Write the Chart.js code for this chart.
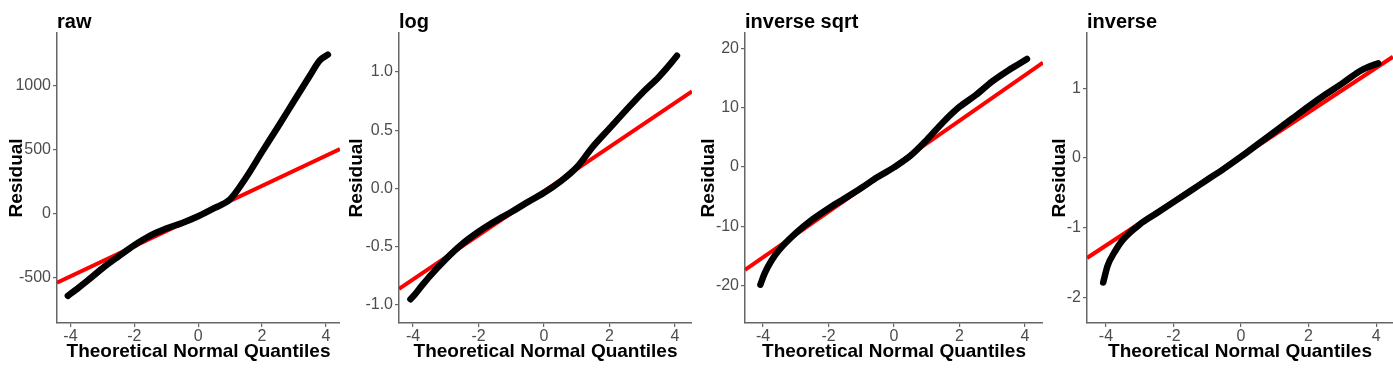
<!DOCTYPE html>
<html>
<head>
<meta charset="utf-8">
<script src="https://cdn.jsdelivr.net/npm/chart.js@4.4.0/dist/chart.umd.min.js"></script>
<style>
  body { margin: 0; background: #fff; }
  #wrap { position: relative; width: 1393px; height: 368px; overflow: hidden; }
  canvas { position: absolute; top: 0; }
</style>
</head>
<body>
<div id="wrap">
  <canvas id="c1"></canvas>
  <canvas id="c2"></canvas>
  <canvas id="c3"></canvas>
  <canvas id="c4"></canvas>
</div>
<script>
// theoretical normal quantiles (same for every panel)
var quantX = [-4.08, -3.95, -3.75, -3.5, -3, -2.5, -2, -1.5, -1, -0.5, 0, 0.5, 1, 1.5, 2, 2.5, 3, 3.5, 3.8, 4.06];

// residuals per transform
var rawY = [-640, -615, -577, -528, -425, -333, -245, -170, -114, -70, -18, 45, 115, 285, 485, 682, 882, 1082, 1198, 1245];
var logY = [-0.955, -0.915, -0.845, -0.76, -0.61, -0.48, -0.375, -0.285, -0.205, -0.12, -0.04, 0.058, 0.18, 0.36, 0.515, 0.67, 0.82, 0.955, 1.05, 1.14];
var invSqrtY = [-19.9, -18.0, -15.9, -14.0, -11.2, -8.9, -7.0, -5.3, -3.55, -1.7, -0.05, 1.9, 4.6, 7.6, 10.2, 12.2, 14.5, 16.4, 17.4, 18.3];
var invY = [-1.78, -1.54, -1.35, -1.17, -0.95, -0.79, -0.63, -0.47, -0.31, -0.15, 0.02, 0.2, 0.38, 0.56, 0.74, 0.91, 1.07, 1.24, 1.31, 1.355];

// qq reference lines (end points)
var rawLineX = [-4.42, 4.44], rawLineY = [-537, 507];
var logLineX = [-4.43, 4.52], logLineY = [-0.867, 0.834];
var invSqrtLineX = [-4.55, 4.55], invSqrtLineY = [-17.4, 17.7];
var invLineX = [-4.56, 4.5], invLineY = [-1.43, 1.45];

// ticks
var xTicks = [-4, -2, 0, 2, 4];
var rawTicks = [-500, 0, 500, 1000];
var logTicks = [-1, -0.5, 0, 0.5, 1];
var logTickLabels = ['-1.0', '-0.5', '0.0', '0.5', '1.0'];
var invSqrtTicks = [-20, -10, 0, 10, 20];
var invTicks = [-2, -1, 0, 1];

var titles = ['raw', 'log', 'inverse sqrt', 'inverse'];

var FONT = "'Liberation Sans', Arial, sans-serif";

var titlePlugin = {
  id: 'panelTitle',
  afterDraw: function(chart, args, opts) {
    var ctx = chart.ctx;
    ctx.save();
    ctx.font = 'bold 20px ' + FONT;
    ctx.fillStyle = '#000';
    ctx.textBaseline = 'alphabetic';
    ctx.textAlign = 'left';
    ctx.fillText(opts.text, chart.chartArea.left, 28);
    ctx.restore();
  }
};

function pts(xs, ys) {
  var out = [];
  for (var i = 0; i < xs.length; i++) out.push({x: xs[i], y: ys[i]});
  return out;
}

function panel(id, left, width, yWidth, title, ys, lx, ly, xr, yr, yt, ylab) {
  var cv = document.getElementById(id);
  cv.width = width; cv.height = 368;
  cv.style.left = left + 'px';
  new Chart(cv, {
    type: 'scatter',
    data: {
      datasets: [{
        data: pts(quantX, ys),
        showLine: true,
        borderColor: '#000',
        backgroundColor: '#000',
        borderWidth: 6.5,
        borderCapStyle: 'round',
        borderJoinStyle: 'round',
        cubicInterpolationMode: 'monotone',
        pointRadius: 0
      }, {
        data: pts(lx, ly),
        showLine: true,
        borderColor: '#ff0000',
        borderWidth: 4,
        pointRadius: 0
      }]
    },
    options: {
      responsive: false,
      animation: false,
      devicePixelRatio: 1,
      layout: { padding: { top: 33, right: 0, left: 0, bottom: 0 } },
      plugins: {
        legend: { display: false },
        tooltip: { enabled: false },
        panelTitle: { text: title }
      },
      scales: {
        x: {
          type: 'linear',
          min: xr[0], max: xr[1],
          afterFit: function(s) { s.height = 45; },
          afterBuildTicks: function(s) { s.ticks = xTicks.map(function(v) { return {value: v}; }); },
          grid: { drawOnChartArea: false, drawTicks: true, tickLength: 4, color: '#666', lineWidth: 1.2 },
          border: { color: '#666', width: 1.5 },
          ticks: { color: '#4d4d4d', font: { family: FONT, size: 16 }, padding: 0, maxRotation: 0 },
          title: { display: true, text: 'Theoretical Normal Quantiles', color: '#000',
                   font: { family: FONT, size: 19, weight: 'bold' }, padding: { top: 0, bottom: 5 } }
        },
        y: {
          type: 'linear',
          min: yr[0], max: yr[1],
          afterFit: function(s) { s.width = yWidth; },
          afterBuildTicks: function(s) { s.ticks = yt.map(function(v) { return {value: v}; }); },
          grid: { drawOnChartArea: false, drawTicks: true, tickLength: 4, color: '#666', lineWidth: 1.2 },
          border: { color: '#666', width: 1.5 },
          ticks: {
            color: '#4d4d4d', font: { family: FONT, size: 16 }, padding: 2,
            callback: function(v, i) { return ylab ? ylab[i] : String(v); }
          },
          title: { display: true, text: 'Residual', color: '#000',
                   font: { family: FONT, size: 19, weight: 'bold' }, padding: { top: 5, bottom: 0 } }
        }
      }
    },
    plugins: [titlePlugin]
  });
}

panel('c1', 0, 340, 57, titles[0], rawY, rawLineX, rawLineY, [-4.42, 4.44], [-852, 1414], rawTicks, null);
panel('c2', 340, 352, 59, titles[1], logY, logLineX, logLineY, [-4.43, 4.52], [-1.16, 1.336], logTicks, logTickLabels);
panel('c3', 692, 351, 53, titles[2], invSqrtY, invSqrtLineX, invSqrtLineY, [-4.55, 4.55], [-26.4, 22.7], invSqrtTicks, null);
panel('c4', 1043, 350, 44, titles[3], invY, invLineX, invLineY, [-4.56, 4.5], [-2.36, 1.79], invTicks, null);
</script>
</body>
</html>
